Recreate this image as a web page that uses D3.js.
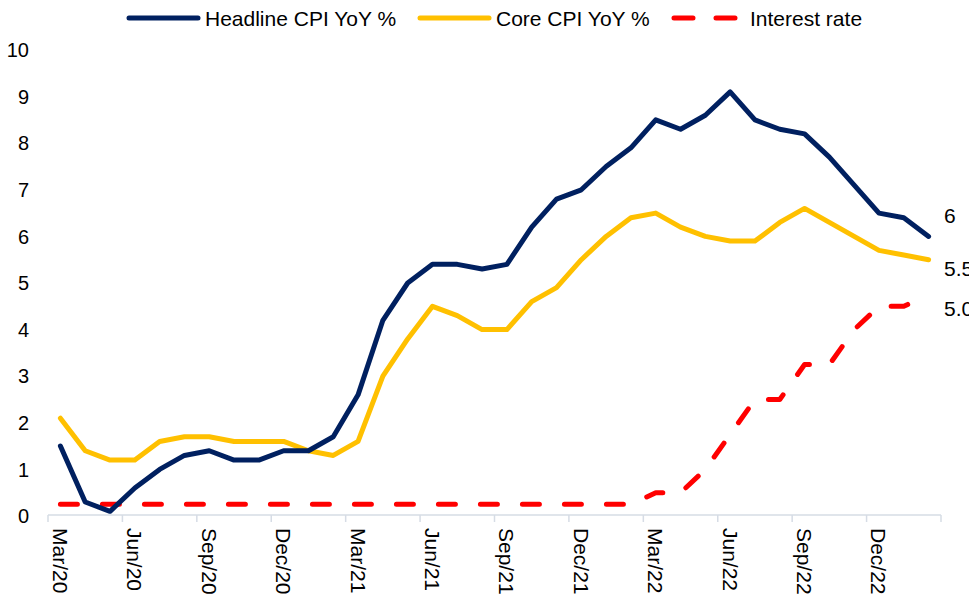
<!DOCTYPE html>
<html>
<head>
<meta charset="utf-8">
<script src="https://cdn.jsdelivr.net/npm/d3@7"></script>
<style>
    html, body { margin: 0; padding: 0; background: #fff; }
    svg { display: block; font-family: 'Liberation Sans', Arial, sans-serif; }
</style>
</head>
<body>
<div class="chart"></div>
<script>
const width = 969;
const height = 594;
const navy = '#002060';
const gold = '#ffc000';
const red = '#ff0000';
const axisGrey = '#d6dce5';

// Monthly, Mar/20 .. Feb/23
const months = [
    'Mar/20', 'Apr/20', 'May/20', 'Jun/20', 'Jul/20', 'Aug/20', 'Sep/20', 'Oct/20', 'Nov/20', 'Dec/20',
    'Jan/21', 'Feb/21', 'Mar/21', 'Apr/21', 'May/21', 'Jun/21', 'Jul/21', 'Aug/21', 'Sep/21', 'Oct/21', 'Nov/21', 'Dec/21',
    'Jan/22', 'Feb/22', 'Mar/22', 'Apr/22', 'May/22', 'Jun/22', 'Jul/22', 'Aug/22', 'Sep/22', 'Oct/22', 'Nov/22', 'Dec/22',
    'Jan/23', 'Feb/23'
];
const tickLabels = ['Mar/20', 'Jun/20', 'Sep/20', 'Dec/20', 'Mar/21', 'Jun/21', 'Sep/21', 'Dec/21',
    'Mar/22', 'Jun/22', 'Sep/22', 'Dec/22'];

const headline = [1.5, 0.3, 0.1, 0.6, 1.0, 1.3, 1.4, 1.2, 1.2, 1.4,
    1.4, 1.7, 2.6, 4.2, 5.0, 5.4, 5.4, 5.3, 5.4, 6.2, 6.8, 7.0,
    7.5, 7.9, 8.5, 8.3, 8.6, 9.1, 8.5, 8.3, 8.2, 7.7, 7.1, 6.5,
    6.4, 6.0];
const core = [2.1, 1.4, 1.2, 1.2, 1.6, 1.7, 1.7, 1.6, 1.6, 1.6,
    1.4, 1.3, 1.6, 3.0, 3.8, 4.5, 4.3, 4.0, 4.0, 4.6, 4.9, 5.5,
    6.0, 6.4, 6.5, 6.2, 6.0, 5.9, 5.9, 6.3, 6.6, 6.3, 6.0, 5.7,
    5.6, 5.5];
const interestRate = [0.25, 0.25, 0.25, 0.25, 0.25, 0.25, 0.25, 0.25, 0.25, 0.25,
    0.25, 0.25, 0.25, 0.25, 0.25, 0.25, 0.25, 0.25, 0.25, 0.25, 0.25, 0.25,
    0.25, 0.25, 0.5, 0.5, 1.0, 1.75, 2.5, 2.5, 3.25, 3.25, 4.0, 4.5,
    4.5, 4.75];

const yTicks = [0, 1, 2, 3, 4, 5, 6, 7, 8, 9, 10];
const endLabels = ['6', '5.5', '5.0'];

buildChart();

function buildChart() {

    const svg = d3.select('.chart')
        .append('svg')
        .attr('width', width)
        .attr('height', height);

    const x = d3.scaleBand()
        .domain(months)
        .range([48, 941]);

    const y = d3.scaleLinear()
        .domain([0, 10])
        .range([516, 50]);

    const cx = (d) => x(d) + x.bandwidth() / 2;

    // Y labels, no axis line
    svg.append('g')
        .selectAll('text')
        .data(yTicks)
        .enter()
        .append('text')
        .attr('x', 29)
        .attr('y', (d) => y(d))
        .attr('dy', '0.36em')
        .attr('text-anchor', 'end')
        .attr('font-size', 20)
        .attr('fill', '#000')
        .text((d) => d);

    // X axis line with tick marks between every 3rd category
    const xAxis = svg.append('g');
    xAxis.append('line')
        .attr('x1', 48)
        .attr('x2', 941)
        .attr('y1', 515)
        .attr('y2', 515)
        .attr('stroke', axisGrey)
        .attr('stroke-width', 1.5);

    const tickMonths = months.filter((d, i) => i % 3 === 0).concat(['end']);
    xAxis.selectAll('.tick')
        .data(tickMonths)
        .enter()
        .append('line')
        .attr('class', 'tick')
        .attr('x1', (d) => d === 'end' ? 941 : x(d))
        .attr('x2', (d) => d === 'end' ? 941 : x(d))
        .attr('y1', 515)
        .attr('y2', 522)
        .attr('stroke', axisGrey)
        .attr('stroke-width', 1.5);

    xAxis.selectAll('.label')
        .data(tickLabels)
        .enter()
        .append('text')
        .attr('class', 'label')
        .attr('transform', (d) => `translate(${cx(d)}, 528) rotate(90)`)
        .attr('dy', '0.36em')
        .attr('text-anchor', 'start')
        .attr('font-size', 21)
        .attr('fill', '#000')
        .text((d) => d);

    // Lines
    const line = d3.line()
        .x((d, i) => cx(months[i]))
        .y((d) => y(d));

    svg.append('path')
        .datum(interestRate)
        .attr('d', line)
        .attr('fill', 'none')
        .attr('stroke', red)
        .attr('stroke-width', 5)
        .attr('stroke-linecap', 'round')
        .attr('stroke-linejoin', 'round')
        .attr('stroke-dasharray', '17 25');

    svg.append('path')
        .datum(core)
        .attr('d', line)
        .attr('fill', 'none')
        .attr('stroke', gold)
        .attr('stroke-width', 5)
        .attr('stroke-linecap', 'round')
        .attr('stroke-linejoin', 'round');

    svg.append('path')
        .datum(headline)
        .attr('d', line)
        .attr('fill', 'none')
        .attr('stroke', navy)
        .attr('stroke-width', 5)
        .attr('stroke-linecap', 'round')
        .attr('stroke-linejoin', 'round');

    // End labels
    svg.append('g')
        .selectAll('text')
        .data(endLabels)
        .enter()
        .append('text')
        .attr('x', 944)
        .attr('y', (d, i) => [215, 268, 308][i])
        .attr('dy', '0.36em')
        .attr('font-size', 21)
        .attr('fill', '#000')
        .text((d) => d);

    // Legend
    const legend = svg.append('g');
    const items = [
        {name: 'Headline CPI YoY %', color: navy, x: 127, dash: null},
        {name: 'Core CPI YoY %', color: gold, x: 418, dash: null},
        {name: 'Interest rate', color: red, x: 672, dash: '19 23'}
    ];

    items.forEach((d) => {
        legend.append('line')
            .attr('x1', d.x + 2)
            .attr('x2', d.x + 71)
            .attr('y1', 18)
            .attr('y2', 18)
            .attr('stroke', d.color)
            .attr('stroke-width', 5)
            .attr('stroke-linecap', 'round')
            .attr('stroke-dasharray', d.dash);
        legend.append('text')
            .attr('x', d.x + 78)
            .attr('y', 18)
            .attr('dy', '0.36em')
            .attr('font-size', 21)
            .attr('fill', '#000')
            .text(d.name);
    });
}
</script>
</body>
</html>
